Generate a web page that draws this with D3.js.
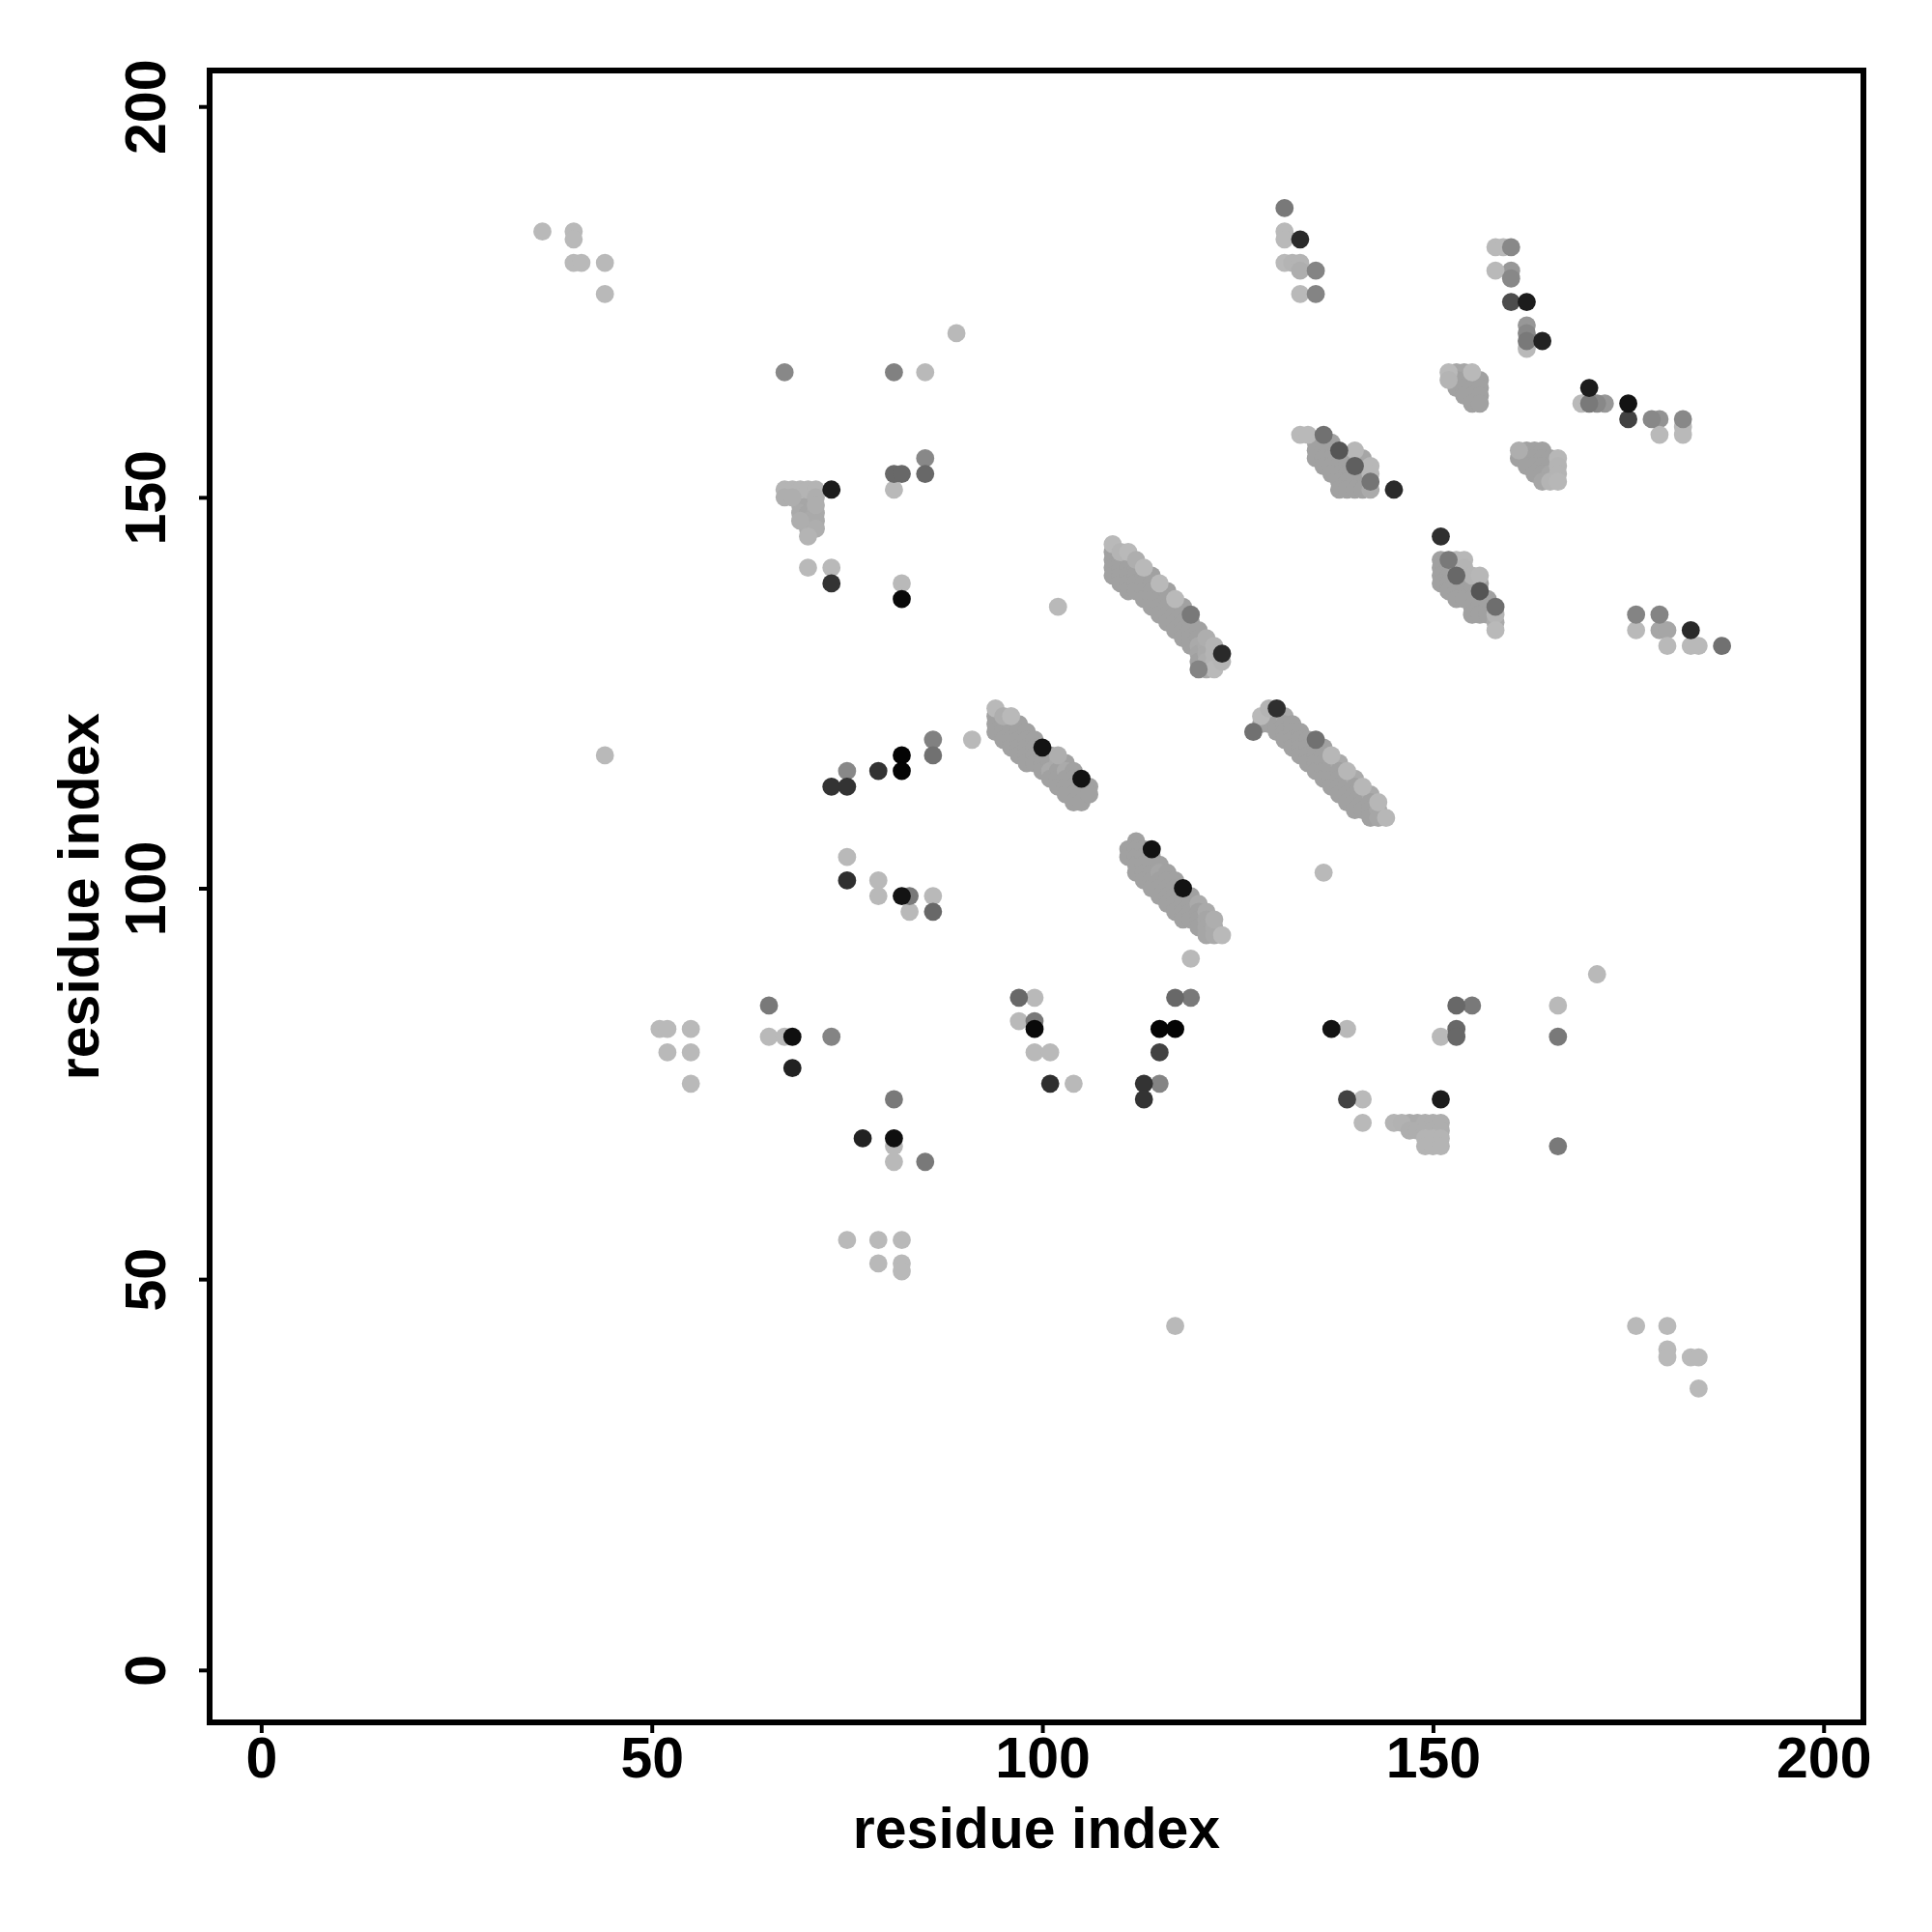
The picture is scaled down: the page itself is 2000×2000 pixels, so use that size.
<!DOCTYPE html>
<html><head><meta charset="utf-8">
<script src="https://cdn.jsdelivr.net/npm/d3@7"></script>
<style>body{margin:0;background:#fff}</style>
</head><body>
<script>
// ---- data: [residue i, residue j, contact probability] ----
const xTicks = [0, 50, 100, 150, 200];
const yTicks = [0, 50, 100, 150, 200];
const xTitle = "residue index";
const yTitle = "residue index";

const clusterNW = [[36,184,.02],[40,184,.02],[40,183,.02],[40,180,.02],[41,180,.02],[44,180,.02],[44,176,.02]];

const upperLeft = [
[67,166,.28],[81,166,.32],[85,166,.02],[89,171,.02],
[85,155,.28],[81,153,.45],[82,153,.45],[85,153,.45],[81,151,.02],[73,151,.85],
[67,151,.05],[68,151,.05],[69,151,.05],[70,151,.05],[71,151,.05],
[67,150,.08],[68,150,.08],[69,150,.1],[70,150,.1],[71,150,.08],
[69,149,.1],[70,149,.12],[71,149,.08],
[69,148,.1],[70,148,.12],[71,148,.1],
[69,147,.08],[70,147,.1],[71,147,.1],
[70,146,.1],[71,146,.08],[70,145,.05],
[70,141,.02],[73,141,.02],[73,139,.73],[82,139,.02],[82,137,.95]];

const midLeft = [
[44,117,.02],[75,115,.28],[73,113,.73],[75,113,.73],[79,115,.73],[82,117,.98],[82,115,.98],[86,119,.32],[86,117,.4],[91,119,.02],
[75,104,.02],[75,101,.75],[79,101,.02],[79,99,.02],[82,99,.9],[83,99,.36],[83,97,.02],[86,99,.02],[86,97,.45],
[102,136,.02],[136,102,.02],[119,91,.02],[171,89,.02]];

const lowLeft = [
[51,82,.02],[52,82,.02],[55,82,.02],[52,79,.02],[55,79,.02],[55,75,.02],
[65,85,.36],[65,81,.02],[67,81,.02],[68,81,.92],[73,81,.3],[68,77,.82],
[81,73,.36],[77,68,.82],[81,68,.92],[81,67,.02],[81,65,.02],[85,65,.36],
[75,55,.02],[79,55,.02],[82,55,.02],[79,52,.02],[82,52,.02],[82,51,.02]];

const lowMid = [
[97,86,.45],[99,86,.02],[97,83,.02],[99,82,.95],[99,83,.36],[99,79,.02],[101,79,.02],[101,75,.75],[104,75,.02],
[117,86,.45],[119,86,.36],[115,82,.98],[117,82,.98],[115,79,.65],[113,75,.73],[115,75,.3],[113,73,.73],[117,44,.02]];

const lowRight = [
[137,82,.9],[139,82,.02],[139,73,.65],[141,73,.02],[141,70,.02],[151,73,.85],
[153,85,.45],[155,85,.36],[151,81,.02],[153,82,.45],[153,81,.45],[166,85,.02],[166,81,.36],[166,67,.36],
[145,70,.05],[146,70,.06],[147,70,.1],[148,70,.1],[149,70,.08],[150,70,.08],[151,70,.08],
[147,69,.08],[148,69,.08],[149,69,.08],[150,69,.08],[151,69,.08],
[149,68,.05],[150,68,.05],[151,68,.05],[149,67,.05],[150,67,.05],[151,67,.05],
[176,44,.02],[180,44,.02],[180,41,.02],[180,40,.02],[183,40,.02],[184,40,.02],[184,36,.02]];

const topRight = [
[131,187,.36],[131,184,.02],[131,183,.02],[133,183,.78],[131,180,.02],[132,180,.05],[133,180,.05],[133,179,.08],[135,179,.3],[133,176,.02],[135,176,.3],
[158,182,.02],[159,182,.02],[160,182,.28],[158,179,.02],[160,179,.2],[160,178,.28],[160,175,.6],[162,175,.85],[162,172,.2],[162,171,.28],[162,170,.36],[162,169,.02],[164,170,.82],
[170,164,.85],[169,162,.02],[170,162,.36],[171,162,.28],[172,162,.2],[175,162,.9],[175,160,.65],[178,160,.28],[179,160,.22],[179,158,.02],[182,160,.28],[182,159,.02],[182,158,.02],
[176,135,.3],[176,133,.02],[179,135,.3],[179,133,.12],[180,133,.12],[180,131,.02],[183,133,.78],[183,131,.02],[184,131,.02],[187,131,.4]];

const cluster6 = [[152,166,.02],[153,166,.12],[154,166,.12],[155,166,.02],[152,165,.05],[153,165,.15],[154,165,.15],[155,165,.15],[156,165,.15],[153,164,.15],[154,164,.15],[155,164,.15],[156,164,.15],[154,163,.15],[155,163,.15],[156,163,.15],[155,162,.15],[156,162,.15]];

const cluster7 = [[161,156,.08],[162,156,.15],[163,156,.15],[164,156,.15],[161,155,.15],[162,155,.15],[163,155,.15],[164,155,.15],[165,155,.15],[166,155,.03],[162,154,.15],[163,154,.15],[164,154,.15],[165,154,.15],[166,154,.05],[163,153,.15],[164,153,.15],[165,153,.12],[166,153,.05],[164,152,.12],[165,152,.05],[166,152,.03]];

const cluster8 = [
[151,145,.75],
[151,142,.15],[152,142,.36],[153,142,.03],[154,142,.03],
[151,141,.15],[152,141,.15],[153,141,.15],[154,141,.05],
[151,140,.15],[152,140,.15],[153,140,.45],[154,140,.15],[155,140,.05],[156,140,.03],
[151,139,.15],[152,139,.15],[153,139,.15],[154,139,.15],[155,139,.15],[156,139,.15],
[152,138,.15],[153,138,.15],[154,138,.15],[155,138,.15],[156,138,.55],
[153,137,.15],[154,137,.15],[155,137,.15],[156,137,.15],[157,137,.15],
[155,136,.15],[156,136,.15],[157,136,.15],[158,136,.42],
[155,135,.15],[156,135,.15],[157,135,.15],[158,135,.05],
[158,134,.1],[158,133,.02]];

const bandA = [
[109,144,.02],[109,143,.15],[109,142,.15],[109,141,.15],[109,140,.15],
[110,143,.05],[110,142,.15],[110,141,.15],[110,140,.15],[110,139,.15],
[111,143,.02],[111,142,.15],[111,141,.15],[111,140,.15],[111,139,.15],[111,138,.15],
[112,142,.08],[112,141,.15],[112,140,.15],[112,139,.15],[112,138,.15],
[113,141,.02],[113,140,.15],[113,139,.15],[113,138,.15],[113,137,.15],
[114,140,.15],[114,139,.15],[114,138,.15],[114,137,.15],[114,136,.15],
[115,139,.02],[115,138,.15],[115,137,.15],[115,136,.15],[115,135,.15],
[116,138,.15],[116,137,.15],[116,136,.15],[116,135,.15],[116,134,.15],
[117,137,.02],[117,136,.15],[117,135,.15],[117,134,.15],[117,133,.15],
[118,136,.15],[118,135,.15],[118,134,.15],[118,133,.15],[118,132,.15],
[119,135,.36],[119,134,.15],[119,133,.15],[119,132,.15],[119,131,.15],
[120,133,.15],[120,132,.15],[120,131,.1],[120,130,.12],[120,129,.15],[120,128,.3],
[121,132,.08],[121,131,.1],[121,130,.1],[121,129,.08],[121,128,.1],
[122,131,.05],[122,130,.05],[122,129,.05],[122,128,.02],
[123,129,.04],[123,130,.78]];

const bandB = [
[133,158,.02],[134,158,.02],[136,158,.4],
[135,157,.15],[136,157,.15],[137,157,.15],
[135,156,.15],[136,156,.15],[137,156,.15],[138,156,.55],[140,156,.03],
[135,155,.15],[136,155,.15],[137,155,.15],[138,155,.15],[139,155,.15],[140,155,.15],[141,155,.12],
[136,154,.15],[137,154,.15],[138,154,.15],[139,154,.15],[140,154,.5],[142,154,.03],
[137,153,.15],[138,153,.15],[139,153,.15],[140,153,.15],[141,153,.15],[142,153,.03],
[138,152,.15],[139,152,.15],[140,152,.15],[141,152,.15],[142,152,.38],
[138,151,.15],[139,151,.15],[140,151,.15],[141,151,.15],[142,151,.1],
[145,151,.78]];

const bandC = [
[94,123,.02],[94,122,.15],[94,121,.15],[94,120,.15],
[95,122,.08],[95,121,.15],[95,120,.15],[95,119,.15],
[96,122,.02],[96,121,.15],[96,120,.15],[96,119,.15],[96,118,.15],
[97,121,.15],[97,120,.15],[97,119,.15],[97,118,.15],[97,117,.15],
[98,120,.15],[98,119,.15],[98,118,.15],[98,117,.15],[98,116,.15],
[99,119,.15],[99,118,.15],[99,117,.15],[99,116,.15],
[100,118,.9],[100,117,.15],[100,116,.15],[100,115,.15],
[101,117,.15],[101,116,.15],[101,115,.1],[101,114,.15],
[102,117,.08],[102,116,.1],[102,115,.15],[102,114,.15],[102,113,.15],
[103,116,.15],[103,115,.1],[103,114,.15],[103,113,.15],[103,112,.15],
[104,115,.15],[104,114,.15],[104,113,.15],[104,112,.15],[104,111,.15],
[105,114,.9],[105,113,.15],[105,112,.15],[105,111,.15],
[106,113,.15],[106,112,.15]];

const bandD = [
[111,105,.15],[111,104,.15],
[112,106,.15],[112,105,.15],[112,104,.15],[112,103,.15],[112,102,.15],
[113,105,.15],[113,104,.15],[113,103,.15],[113,102,.15],[113,101,.15],
[114,105,.9],[114,104,.15],[114,103,.15],[114,102,.15],[114,101,.15],[114,100,.15],
[115,103,.15],[115,102,.12],[115,101,.15],[115,100,.15],[115,99,.15],
[116,102,.15],[116,101,.15],[116,100,.15],[116,99,.15],[116,98,.15],
[117,101,.15],[117,100,.15],[117,99,.15],[117,98,.15],[117,97,.15],
[118,100,.9],[118,99,.15],[118,98,.15],[118,97,.15],[118,96,.15],
[119,99,.15],[119,98,.15],[119,97,.15],[119,96,.15],
[120,98,.1],[120,97,.15],[120,96,.15],[120,95,.15],
[121,97,.1],[121,96,.12],[121,95,.12],[121,94,.12],
[122,96,.08],[122,95,.1],[122,94,.1],
[123,94,.02]];

const bandE = [
[127,120,.4],[128,122,.02],[128,121,.15],
[129,123,.05],[129,122,.15],[129,121,.15],
[130,123,.75],[130,122,.15],[130,121,.15],[130,120,.15],
[131,122,.1],[131,121,.15],[131,120,.15],[131,119,.15],
[132,121,.15],[132,120,.15],[132,119,.15],[132,118,.15],
[133,120,.15],[133,119,.15],[133,118,.15],[133,117,.15],
[134,119,.15],[134,118,.15],[134,117,.15],[134,116,.15],
[135,119,.4],[135,118,.15],[135,117,.15],[135,116,.15],[135,115,.15],
[136,118,.15],[136,117,.15],[136,116,.15],[136,115,.15],[136,114,.15],
[137,117,.03],[137,116,.15],[137,115,.15],[137,114,.15],[137,113,.15],
[138,116,.1],[138,115,.15],[138,114,.15],[138,113,.15],[138,112,.15],
[139,115,.03],[139,114,.15],[139,113,.15],[139,112,.15],[139,111,.15],
[140,114,.1],[140,113,.15],[140,112,.15],[140,111,.15],[140,110,.15],
[141,113,.03],[141,112,.15],[141,111,.15],[141,110,.15],
[142,112,.1],[142,111,.15],[142,110,.15],[142,109,.15],
[143,111,.03],[143,110,.12],[143,109,.12],
[144,109,.03]];

// ---- drawing ----
const W = 2000, H = 2000;
const L = 217, R = 1929, T = 73, B = 1783;
const FONT = "'Liberation Sans', Arial, Helvetica, sans-serif";

const svg = d3.select("body").append("svg")
  .attr("width", W).attr("height", H)
  .style("background", "#fff");

const x = d3.scaleLinear().domain([-6.6, 205.1]).range([L, R]);
const y = d3.scaleLinear().domain([-6.7, 204.6]).range([B, T]);
const shade = d3.scaleLinear().domain([0, 1]).range(["#bdbdbd", "#000000"]).interpolate(d3.interpolateRgb);

const all = [].concat(clusterNW, upperLeft, midLeft, lowLeft, lowMid, lowRight, topRight,
  cluster6, cluster7, cluster8, bandA, bandB, bandC, bandD, bandE)
  .map(([i, j, p]) => ({i, j, p}));
const rank = d => d.p >= 0.25 ? 2 + d.p : (d.p < 0.1 ? 1 : 0);
all.sort((a, b) => rank(a) - rank(b));

svg.append("g").selectAll("circle").data(all).join("circle")
  .attr("cx", d => x(d.i))
  .attr("cy", d => y(d.j))
  .attr("r", 9.4)
  .attr("fill", d => shade(d.p));

// frame
svg.append("rect").attr("x", L).attr("y", T).attr("width", R - L).attr("height", B - T)
  .attr("fill", "none").attr("stroke", "#000").attr("stroke-width", 6);

// x axis
const gx = svg.append("g").attr("transform", `translate(0,${B})`)
  .call(d3.axisBottom(x).tickValues(xTicks).tickSize(11).tickPadding(4).tickFormat(d3.format("d")));
gx.select(".domain").remove();
gx.selectAll(".tick line").attr("stroke", "#000").attr("stroke-width", 4);
gx.selectAll(".tick text").attr("fill", "#000")
  .style("font-family", FONT).style("font-weight", "bold").style("font-size", "59px");

// y axis
const gy = svg.append("g").attr("transform", `translate(${L},0)`)
  .call(d3.axisLeft(y).tickValues(yTicks).tickSize(11).tickFormat(d3.format("d")));
gy.select(".domain").remove();
gy.selectAll(".tick line").attr("stroke", "#000").attr("stroke-width", 4);
gy.selectAll(".tick text").attr("fill", "#000")
  .attr("x", null).attr("dy", null)
  .attr("transform", "translate(-46,0) rotate(-90)")
  .attr("text-anchor", "middle")
  .style("font-family", FONT).style("font-weight", "bold").style("font-size", "59px");

// titles
svg.append("text").attr("x", (L + R) / 2).attr("y", 1913)
  .attr("text-anchor", "middle")
  .style("font-family", FONT).style("font-weight", "bold").style("font-size", "59px")
  .text(xTitle);
svg.append("text").attr("transform", `translate(102,${(T + B) / 2}) rotate(-90)`)
  .attr("text-anchor", "middle")
  .style("font-family", FONT).style("font-weight", "bold").style("font-size", "59px")
  .text(yTitle);
</script>
</body></html>
